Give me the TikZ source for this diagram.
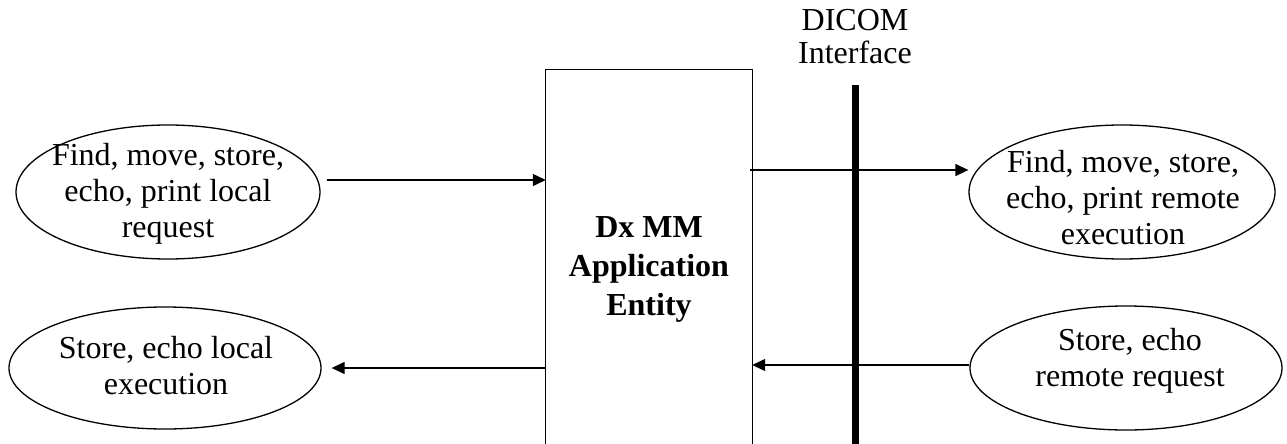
\documentclass[tikz,border=0pt]{standalone}
\usepackage{fontspec}
\setmainfont{Liberation Serif}
\usetikzlibrary{shapes.geometric,arrows.meta}
\begin{document}
\begin{tikzpicture}[x=1pt,y=-1pt,
  oval/.style={draw,line width=1.3pt,ellipse,inner sep=0pt},
  txt/.style={align=center,inner sep=0pt,font=\fontsize{32}{36}\selectfont},
  arr/.style={line width=1.3pt,-{Triangle[length=13pt,width=12pt]}}]
\useasboundingbox (0,0) rectangle (1287,444);
\node[oval,minimum width=304pt,minimum height=134pt] (tl) at (168,192) {};
\node[txt] (tltxt) at (168,194) {Find, move, store,\\echo, print local\\request};
\node[oval,minimum width=312pt,minimum height=122pt] (bl) at (165,368) {};
\node[txt] (bltxt) at (166,366) {Store, echo local\\execution};
\node[oval,minimum width=306pt,minimum height=134pt] (tr) at (1122,192) {};
\node[txt] (trtxt) at (1123,198) {Find, move, store,\\echo, print remote\\execution};
\node[oval,minimum width=312pt,minimum height=124pt] (br) at (1126,368) {};
\node[txt] (brtxt) at (1130,361) {Store, echo\\remote request};
\node[minimum width=206pt,minimum height=374pt,inner sep=0pt] (box) at (649,257) {};
\draw[line width=1.3pt] (box.south west) -- (box.north west) -- (box.north east) -- (box.south east);
\node[txt,font=\fontsize{32}{39}\selectfont\bfseries] (boxlbl) at (649,269) {Dx MM\\Application\\Entity};
\coordinate (dtop) at (855,85);
\coordinate (dbot) at (855,444);
\draw[line width=7pt] (dtop) -- (dbot);
\node[txt,font=\fontsize{32}{33}\selectfont] (dicom) at (855,37) {DICOM\\Interface};
\draw[arr] ([shift={(6,-12)}]tl.east) -- (box.west |- 0,180);
\draw[arr] (box.west |- 0,368) -- ([shift={(10,0)}]bl.east);
\draw[arr] ([shift={(-2,0)}]box.east |- 0,170) -- (tr.west |- 0,170);
\draw[arr] (br.west |- 0,365) -- (box.east |- 0,365);
\end{tikzpicture}
\end{document}
